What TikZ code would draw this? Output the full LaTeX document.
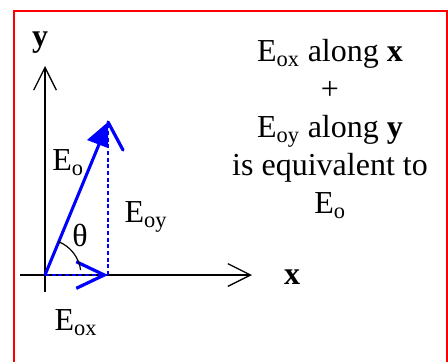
\documentclass[tikz,border=0pt]{standalone}
\usepackage{fontspec}
\setmainfont{Liberation Serif}
\usetikzlibrary{arrows.meta, calc}
\newcommand{\lowsub}[1]{\textsubscript{#1}}

\begin{document}
\begin{tikzpicture}[x=0.75pt, y=0.75pt, font=\fontsize{24}{28.5}\selectfont,
    axis/.style={line width=1.3pt, -{Straight Barb[length=17pt, width=17pt, line width=1pt]}},
    comp/.style={blue, line width=2.2pt, dash pattern=on 3pt off 2pt}]
    \clip (0,0) rectangle (448,361);
    % Frame
    \draw[red, line width=1.5pt] (14,-20) rectangle (447,350);

    % Points
    \coordinate (O) at (45,86);
    \coordinate (P) at (108,239);
    \coordinate (Q) at (108,86);
    \coordinate (Xl) at (20,86);
    \coordinate (Xr) at (252,86);
    \coordinate (Yb) at (45,69);
    \coordinate (Yt) at (45,295);

    % Axes
    \draw[axis] (Xl) -- (Xr);
    \draw[axis] (Yb) -- (Yt);
    \node[font=\fontsize{24}{28}\selectfont\bfseries] (xlab) at (292,84) {x};
    \node[font=\fontsize{24}{28}\selectfont\bfseries] (ylab) at (40,318) {y};

    % Components
    \draw[comp, line width=1.6pt] (Q) -- (P);
    \draw[comp, -{Straight Barb[length=21pt, width=20pt, line width=2.4pt]}] (O) -- (Q);

    % Field vector
    \draw[blue, line width=2.3pt] (O) -- ($(P)+(-3,-8)$);
    \fill[blue] (P) -- ++(-21,-18) -- ++(21,-8) -- cycle;
    \draw[blue, line width=2.4pt, line cap=round] (P) -- ++(15,-28);

    % Angle
    \draw[line width=0.9pt] (O) ++(67.7:36) arc[start angle=67.7, end angle=8, radius=36];
    \node (theta) at (80,126) {θ};

    % Labels
    \node (Eo) at (68,198) {E\lowsub{o}};
    \node (Eoy) at (146,144) {E\lowsub{oy}};
    \node (Eox) at (76,38) {E\lowsub{ox}};
    \node[align=center] (note) at (330,232) {E\lowsub{ox} along \textbf{x}\\+\\E\lowsub{oy} along \textbf{y}\\is equivalent to\\E\lowsub{o}};
\end{tikzpicture}
\end{document}
